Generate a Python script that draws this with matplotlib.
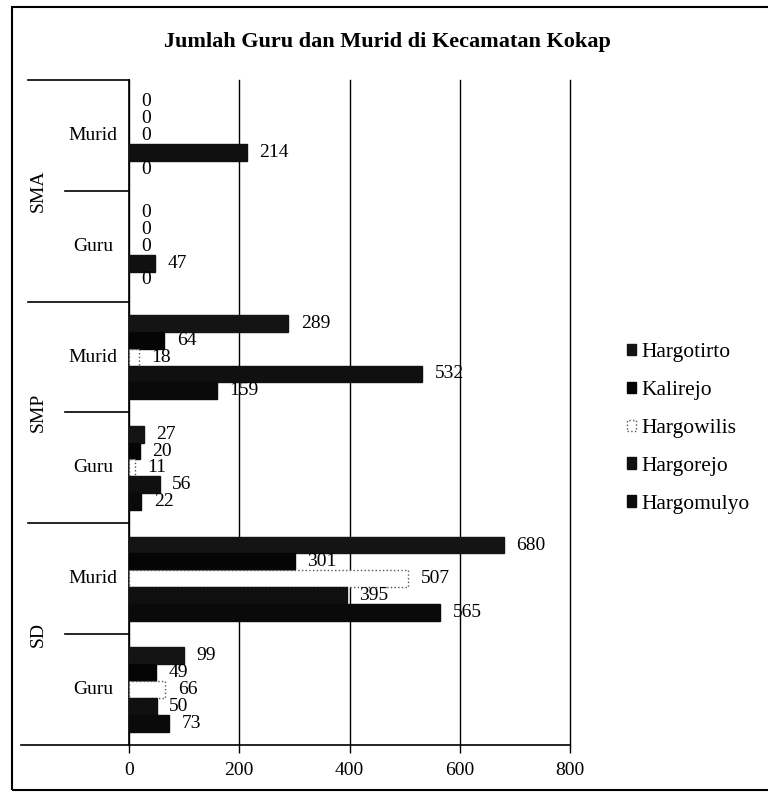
import numpy as np
import matplotlib
matplotlib.use('Agg')
import matplotlib.pyplot as plt
from matplotlib.patches import Patch, Rectangle

plt.rcParams['font.family'] = ['Liberation Serif', 'DejaVu Serif']

# categories, bottom to top
levels = ['SD', 'SD', 'SMP', 'SMP', 'SMA', 'SMA']
kinds = ['Guru', 'Murid', 'Guru', 'Murid', 'Guru', 'Murid']

desa = ['Hargotirto', 'Kalirejo', 'Hargowilis', 'Hargorejo', 'Hargomulyo']
hargotirto = [99, 680, 27, 289, 0, 0]
kalirejo = [49, 301, 20, 64, 0, 0]
hargowilis = [66, 507, 11, 18, 0, 0]
hargorejo = [50, 395, 56, 532, 47, 214]
hargomulyo = [73, 565, 22, 159, 0, 0]
series = [hargotirto, kalirejo, hargowilis, hargorejo, hargomulyo]

face = ['#141414', '#050505', 'white', '#101010', '#0a0a0a']
edge = ['#141414', '#050505', '#555555', '#101010', '#0a0a0a']
lstyle = ['solid', 'solid', ':', 'solid', 'solid']

fig = plt.figure(figsize=(7.68, 7.93), dpi=100)
ax = fig.add_axes([129 / 768, 1 - 745 / 793, 441 / 768, 665 / 793])

y = np.arange(len(kinds))
h = 0.152
for i, vals in enumerate(series):
    off = (2 - i) * h
    ec = [edge[i] if v > 0 else 'none' for v in vals]
    bars = ax.barh(y + off, vals, height=h, color=face[i], edgecolor=ec,
                   linestyle=lstyle[i], linewidth=1.0, zorder=3)
    ax.bar_label(bars, labels=[str(v) for v in vals], padding=9, fontsize=14,
                 zorder=4)

ax.set_xlim(0, 800)
ax.set_ylim(-0.5, len(kinds) - 0.5)
ax.set_xticks([0, 200, 400, 600, 800])
ax.tick_params(axis='x', labelsize=14, length=6, width=1, pad=6, color='black')
ax.set_yticks([])
ax.grid(axis='x', color='black', linewidth=1.0, zorder=0)
for gl in ax.get_xgridlines():
    gl.set_clip_on(False)
for s in ['top', 'right']:
    ax.spines[s].set_visible(False)
ax.spines['left'].set_linewidth(1.2)
ax.spines['bottom'].set_linewidth(1.2)

# multi-level category labels
tr = ax.get_yaxis_transform()
for b in [-0.5, 1.5, 3.5, 5.5]:
    x0 = -0.245 if b == -0.5 else -0.23
    ax.plot([x0, 0], [b, b], transform=tr, color='black', lw=1.2, clip_on=False)
for b in [0.5, 2.5, 4.5]:
    ax.plot([-0.145, 0], [b, b], transform=tr, color='black', lw=1.2, clip_on=False)
for yi, k in zip(y, kinds):
    ax.text(-0.082, yi, k, transform=tr, ha='center', va='center', fontsize=14)
for yi, lv in zip([0.5, 2.5, 4.5], ['SD', 'SMP', 'SMA']):
    ax.text(-0.206, yi, lv, transform=tr, ha='center', va='center',
            rotation=90, fontsize=14)

fig.text(0.505, 0.947, 'Jumlah Guru dan Murid di Kecamatan Kokap',
         ha='center', va='center', fontsize=16, fontweight='bold')

handles = [Patch(facecolor=face[i], edgecolor=edge[i], linestyle=lstyle[i])
           for i in range(len(desa))]
fig.legend(handles, desa, loc='center left', bbox_to_anchor=(0.816, 0.4597),
           frameon=False, fontsize=15.5, handlelength=0.45, handleheight=0.45,
           handletextpad=0.25, labelspacing=0.88, borderpad=0, borderaxespad=0)

fig.patches.append(Rectangle((12 / 768, 3 / 793), 1.0, 783 / 793,
                             transform=fig.transFigure, fill=False,
                             edgecolor='black', linewidth=1.5))

fig.savefig('out.png', dpi=100)
